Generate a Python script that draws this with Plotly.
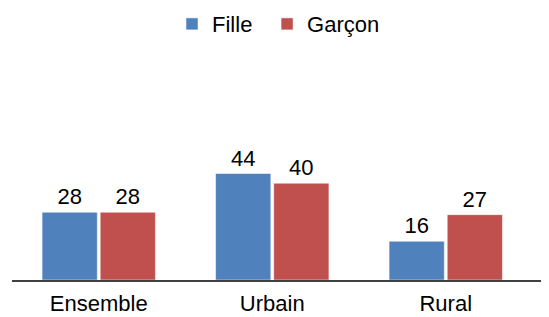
import plotly.graph_objects as go

categories = ["Ensemble", "Urbain", "Rural"]
fille = [28, 44, 16]
garcon = [28, 40, 27]
series_names = ["Fille", "Garçon"]

font = "Liberation Sans, Arial, sans-serif"
FS = 22

fig = go.Figure()
fig.add_trace(go.Bar(
    x=categories, y=fille, name=series_names[0], legend="legend",
    marker=dict(color="#4F81BD", line=dict(color="#FFFFFF", width=0.5)),
    text=[str(v) for v in fille], textposition="outside",
    textfont=dict(size=FS, color="#000000", family=font), cliponaxis=False,
    constraintext="none",
))
fig.add_trace(go.Bar(
    x=categories, y=garcon, name=series_names[1], legend="legend2",
    marker=dict(color="#C0504D", line=dict(color="#FFFFFF", width=0.5)),
    text=[str(v) for v in garcon], textposition="outside",
    textfont=dict(size=FS, color="#000000", family=font), cliponaxis=False,
    constraintext="none",
))

leg_common = dict(orientation="h", xanchor="left", y=2.115, yref="paper",
                  yanchor="middle", font=dict(size=FS, family=font), itemwidth=30,
                  bgcolor="rgba(0,0,0,0)")

fig.update_layout(
    width=541, height=309,
    margin=dict(l=4, r=0, t=150.5, b=37, autoexpand=False),
    paper_bgcolor="white", plot_bgcolor="white",
    barmode="group", bargap=0.33, bargroupgap=0.05,
    font=dict(family=font, size=FS, color="#000000"),
    showlegend=True,
    legend=dict(x=0.298, **leg_common),
    legend2=dict(x=0.475, **leg_common),
    xaxis=dict(range=[-0.5, 2.595], showline=True, linecolor="#404040", linewidth=1.5,
               ticks="", showgrid=False, automargin=False, ticklabelstandoff=3,
               tickfont=dict(size=FS, family=font)),
    yaxis=dict(range=[0, 50], visible=False, showgrid=False, automargin=False),
)

fig.write_html("out.html")
